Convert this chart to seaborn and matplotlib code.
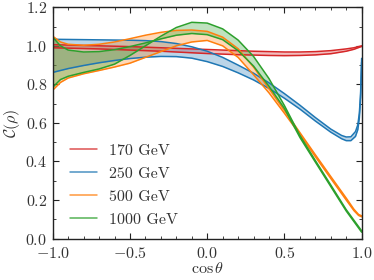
import numpy as np
import matplotlib
matplotlib.use("Agg")
import matplotlib.pyplot as plt
from matplotlib.lines import Line2D
from matplotlib.ticker import MultipleLocator
import seaborn as sns

# ============================
# data
# ============================
LABELS = ["170 GeV", "250 GeV", "500 GeV", "1000 GeV"]
COLORS = ["#d62728", "#1f77b4", "#ff7f0e", "#2ca02c"]

cos_common = [-1.0, -0.95, -0.9, -0.8, -0.7, -0.6, -0.5, -0.4, -0.3, -0.2, -0.1,
              0.0, 0.1, 0.2, 0.3, 0.4, 0.5, 0.6, 0.7, 0.8, 0.9, 0.95, 0.98, 1.0]

# 170 GeV
red_hi = [1.006, 1.005, 1.004, 1.002, 1.000, 0.998, 0.996, 0.993, 0.990, 0.987, 0.984,
          0.981, 0.978, 0.975, 0.972, 0.970, 0.968, 0.968, 0.970, 0.975, 0.984, 0.990, 0.996, 1.000]
red_lo = [0.990, 0.989, 0.988, 0.986, 0.984, 0.981, 0.978, 0.975, 0.972, 0.968, 0.964,
          0.960, 0.957, 0.954, 0.952, 0.950, 0.949, 0.950, 0.953, 0.959, 0.972, 0.982, 0.991, 0.997]

# 250 GeV (extra points near cos = 1 for the hook)
cos_250 = [-1.0, -0.9, -0.8, -0.7, -0.6, -0.5, -0.4, -0.3, -0.2, -0.1, 0.0,
           0.1, 0.2, 0.3, 0.4, 0.5, 0.6, 0.7, 0.8, 0.87, 0.9, 0.93, 0.96, 0.975, 0.985, 0.993, 1.0]
blue_hi = [1.034, 1.033, 1.032, 1.031, 1.030, 1.029, 1.027, 1.022, 1.012, 0.995, 0.972,
           0.940, 0.900, 0.858, 0.808, 0.752, 0.692, 0.628, 0.568, 0.535, 0.527, 0.528, 0.555, 0.590, 0.650, 0.750, 0.935]
blue_lo = [0.862, 0.882, 0.898, 0.912, 0.924, 0.934, 0.941, 0.945, 0.944, 0.936, 0.918,
           0.893, 0.860, 0.823, 0.779, 0.728, 0.672, 0.610, 0.552, 0.518, 0.508, 0.508, 0.530, 0.565, 0.625, 0.730, 0.915]

# 500 GeV
orange_hi = [1.050, 1.020, 1.008, 1.003, 1.008, 1.020, 1.037, 1.055, 1.070, 1.080, 1.082,
             1.075, 1.045, 0.985, 0.890, 0.778, 0.665, 0.550, 0.435, 0.322, 0.210, 0.152, 0.125, 0.118]
orange_lo = [0.770, 0.810, 0.833, 0.855, 0.872, 0.890, 0.910, 0.940, 0.970, 1.000, 1.020,
             1.028, 1.000, 0.940, 0.850, 0.756, 0.650, 0.540, 0.425, 0.312, 0.200, 0.145, 0.120, 0.113]

# 1000 GeV
green_a = [1.045, 1.000, 0.978, 0.968, 0.970, 0.980, 0.996, 1.015, 1.036, 1.055, 1.064,
           1.058, 1.032, 0.975, 0.895, 0.790, 0.675, 0.525, 0.397, 0.270, 0.143, 0.088, 0.055, 0.033]
green_b = [0.785, 0.825, 0.842, 0.862, 0.880, 0.905, 0.950, 1.000, 1.050, 1.095, 1.122,
           1.118, 1.088, 1.030, 0.945, 0.830, 0.690, 0.535, 0.405, 0.278, 0.150, 0.095, 0.062, 0.040]

X_TICKS = [-1.0, -0.5, 0.0, 0.5, 1.0]
Y_TICKS = [0.0, 0.2, 0.4, 0.6, 0.8, 1.0, 1.2]

# ============================
# style
# ============================
sns.set_style("ticks")
plt.rcParams["font.family"] = "serif"
plt.rcParams["font.serif"] = ["cmr10", "DejaVu Serif"]
plt.rcParams["mathtext.fontset"] = "cm"
plt.rcParams["axes.formatter.use_mathtext"] = True

fig = plt.figure(figsize=(3.74, 2.80), dpi=100)
ax = fig.add_axes([0.141, 0.148, 0.826, 0.826])

bands = [
    (cos_common, red_hi, red_lo),
    (cos_250, blue_hi, blue_lo),
    (cos_common, orange_hi, orange_lo),
    (cos_common, green_a, green_b),
]

for (xs, hi, lo), col in zip(bands, COLORS):
    ax.fill_between(xs, hi, lo, color=col, alpha=0.3, lw=0)
    sns.lineplot(x=xs, y=hi, ax=ax, color=col, lw=1.1, sort=False)
    sns.lineplot(x=xs, y=lo, ax=ax, color=col, lw=1.1, sort=False)

ax.set_xlim(-1.0, 1.0)
ax.set_ylim(0.0, 1.2)
ax.set_xticks(X_TICKS)
ax.set_yticks(Y_TICKS)
ax.set_xticklabels([f"${t:.1f}$" for t in X_TICKS])
ax.set_yticklabels([f"${t:.1f}$" for t in Y_TICKS])
ax.xaxis.set_minor_locator(MultipleLocator(0.1))
ax.yaxis.set_minor_locator(MultipleLocator(0.1))
ax.tick_params(which="both", direction="in", top=True, right=True, labelsize=11.5,
               colors="#222222", labelcolor="#333333")
ax.tick_params(axis="x", which="major", pad=5)
ax.tick_params(axis="y", which="major", pad=4)
ax.tick_params(which="major", length=4, width=0.8)
ax.tick_params(which="minor", length=2, width=0.6)
for sp in ax.spines.values():
    sp.set_linewidth(1.0)
    sp.set_color("#222222")

ax.set_xlabel(r"$\cos\theta$", fontsize=11.5, labelpad=0, color="#333333")
ax.set_ylabel(r"$\mathcal{C}(\rho)$", fontsize=11.5, labelpad=2, color="#333333")

handles = [Line2D([0], [0], color=c, lw=1.1, alpha=0.8) for c in COLORS]
ax.legend(handles, LABELS, loc="lower left", bbox_to_anchor=(0.01, -0.012),
          frameon=False, fontsize=11.5, handlelength=1.7, handletextpad=0.7,
          labelspacing=0.55, labelcolor="#333333")

fig.savefig("out.png", dpi=100)
